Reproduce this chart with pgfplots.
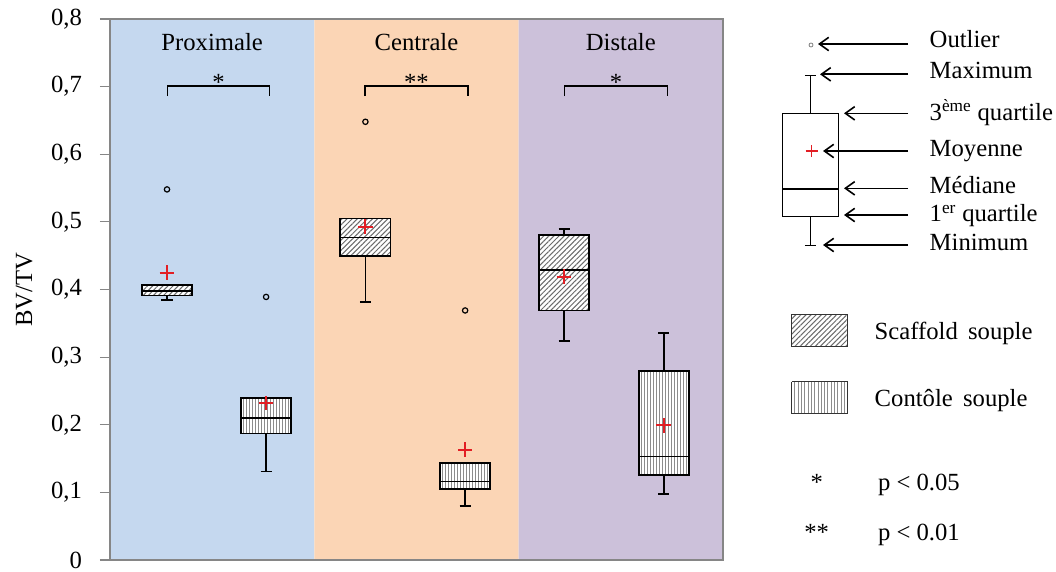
\documentclass[border=0pt]{standalone}
\usepackage{fontspec}
\setmainfont{Liberation Serif}
\usepackage{pgfplots}
\pgfplotsset{compat=1.18}
\usepgfplotslibrary{statistics}
\usetikzlibrary{patterns.meta,arrows.meta}
\definecolor{bgblue}{RGB}{197,216,239}
\definecolor{bgorange}{RGB}{251,213,181}
\definecolor{bgpurple}{RGB}{204,193,218}
\definecolor{axgray}{RGB}{134,134,134}
\definecolor{meanred}{RGB}{226,30,36}
\tikzset{
 scaf/.style={pattern={Lines[angle=45,distance=2.7pt,line width=0.75pt]}, pattern color=black!58},
 arr/.style={black, line width=1.2pt, -{Straight Barb[length=7pt,width=10pt]}},
}
\pgfplotsset{
 meanst/.style={only marks, mark=+, mark size=5.5pt, draw=meanred, color=meanred, mark options={draw=meanred, line width=1.4pt}},
 vhatch/.style={black!45, line width=0.45pt, unbounded coords=jump},
}
\begin{document}
\begin{tikzpicture}[font=\fontsize{18.5}{22}\selectfont]
\path[use as bounding box] (-82.5pt,-8.25pt) rectangle (709.5pt,420pt);
\begin{axis}[
 at={(0pt,0pt)}, anchor=south west,
 scale only axis, width=459.75pt, height=405.75pt,
 xmin=0, xmax=3, ymin=0, ymax=0.8,
 axis on top,
 axis line style={axgray, line width=0.8pt},
 xtick=\empty,
 ytick={0,0.1,0.2,0.3,0.4,0.5,0.6,0.7,0.8},
 ytick pos=left,
 tick align=outside,
 major tick length=7.5pt,
 every tick/.style={axgray, line width=0.8pt},
 yticklabel style={xshift=-10pt, /pgf/number format/.cd, fixed, precision=1, use comma, assume math mode=true},
 ylabel={BV/TV},
 ylabel style={at={(axis description cs:-0.14,0.5)}, anchor=center},
 boxplot/draw direction=y,
 boxplot/box extend=0.245,
 boxplot/whisker extend=0.054,
 clip=false,
]
% backgrounds
\addplot[draw=none, fill=bgblue] coordinates {(0,0) (0,0.8) (1,0.8) (1,0) (0,0)};
\addplot[draw=none, fill=bgorange] coordinates {(1,0) (1,0.8) (2,0.8) (2,0) (1,0)};
\addplot[draw=none, fill=bgpurple] coordinates {(2,0) (2,0.8) (3,0.8) (3,0) (2,0)};
% white underlays of the boxes
\addplot[draw=none, fill=white, boxplot prepared={draw position=0.279, lower whisker=0.391, lower quartile=0.391, median=0.398, upper quartile=0.407, upper whisker=0.407}] coordinates {};
\addplot[draw=none, fill=white, boxplot prepared={draw position=1.25, lower whisker=0.449, lower quartile=0.449, median=0.477, upper quartile=0.505, upper whisker=0.505}] coordinates {};
\addplot[draw=none, fill=white, boxplot prepared={draw position=2.222, lower whisker=0.369, lower quartile=0.369, median=0.429, upper quartile=0.481, upper whisker=0.481}] coordinates {};
\addplot[draw=none, fill=white, boxplot prepared={draw position=0.764, lower whisker=0.187, lower quartile=0.187, median=0.210, upper quartile=0.239, upper whisker=0.239}] coordinates {};
\addplot[draw=none, fill=white, boxplot prepared={draw position=1.738, lower whisker=0.1055, lower quartile=0.1055, median=0.116, upper quartile=0.1435, upper whisker=0.1435}] coordinates {};
\addplot[draw=none, fill=white, boxplot prepared={draw position=2.71, lower whisker=0.126, lower quartile=0.126, median=0.153, upper quartile=0.280, upper whisker=0.280}] coordinates {};
% vertical hatching of the Contole boxes
\addplot[vhatch] coordinates {(0.6538,0.187) (0.6538,0.239) (0.6538,nan) (0.6685,0.187) (0.6685,0.239) (0.6685,nan) (0.6832,0.187) (0.6832,0.239) (0.6832,nan) (0.6979,0.187) (0.6979,0.239) (0.6979,nan) (0.7126,0.187) (0.7126,0.239) (0.7126,nan) (0.7273,0.187) (0.7273,0.239) (0.7273,nan) (0.7420,0.187) (0.7420,0.239) (0.7420,nan) (0.7567,0.187) (0.7567,0.239) (0.7567,nan) (0.7714,0.187) (0.7714,0.239) (0.7714,nan) (0.7861,0.187) (0.7861,0.239) (0.7861,nan) (0.8008,0.187) (0.8008,0.239) (0.8008,nan) (0.8155,0.187) (0.8155,0.239) (0.8155,nan) (0.8302,0.187) (0.8302,0.239) (0.8302,nan) (0.8449,0.187) (0.8449,0.239) (0.8449,nan) (0.8596,0.187) (0.8596,0.239) (0.8596,nan) (0.8743,0.187) (0.8743,0.239)};
\addplot[vhatch] coordinates {(1.6278,0.1055) (1.6278,0.1435) (1.6278,nan) (1.6425,0.1055) (1.6425,0.1435) (1.6425,nan) (1.6572,0.1055) (1.6572,0.1435) (1.6572,nan) (1.6719,0.1055) (1.6719,0.1435) (1.6719,nan) (1.6866,0.1055) (1.6866,0.1435) (1.6866,nan) (1.7013,0.1055) (1.7013,0.1435) (1.7013,nan) (1.7160,0.1055) (1.7160,0.1435) (1.7160,nan) (1.7307,0.1055) (1.7307,0.1435) (1.7307,nan) (1.7454,0.1055) (1.7454,0.1435) (1.7454,nan) (1.7601,0.1055) (1.7601,0.1435) (1.7601,nan) (1.7748,0.1055) (1.7748,0.1435) (1.7748,nan) (1.7895,0.1055) (1.7895,0.1435) (1.7895,nan) (1.8042,0.1055) (1.8042,0.1435) (1.8042,nan) (1.8189,0.1055) (1.8189,0.1435) (1.8189,nan) (1.8336,0.1055) (1.8336,0.1435) (1.8336,nan) (1.8483,0.1055) (1.8483,0.1435)};
\addplot[vhatch] coordinates {(2.5998,0.126) (2.5998,0.280) (2.5998,nan) (2.6145,0.126) (2.6145,0.280) (2.6145,nan) (2.6292,0.126) (2.6292,0.280) (2.6292,nan) (2.6439,0.126) (2.6439,0.280) (2.6439,nan) (2.6586,0.126) (2.6586,0.280) (2.6586,nan) (2.6733,0.126) (2.6733,0.280) (2.6733,nan) (2.6880,0.126) (2.6880,0.280) (2.6880,nan) (2.7027,0.126) (2.7027,0.280) (2.7027,nan) (2.7174,0.126) (2.7174,0.280) (2.7174,nan) (2.7321,0.126) (2.7321,0.280) (2.7321,nan) (2.7468,0.126) (2.7468,0.280) (2.7468,nan) (2.7615,0.126) (2.7615,0.280) (2.7615,nan) (2.7762,0.126) (2.7762,0.280) (2.7762,nan) (2.7909,0.126) (2.7909,0.280) (2.7909,nan) (2.8056,0.126) (2.8056,0.280) (2.8056,nan) (2.8203,0.126) (2.8203,0.280)};
% boxes: Scaffold souple
\addplot[black, line width=1.35pt, scaf, boxplot prepared={draw position=0.279, lower whisker=0.385, lower quartile=0.391, median=0.398, upper quartile=0.407, upper whisker=0.407}] coordinates {};
\addplot[black, line width=1.35pt, scaf, boxplot prepared={draw position=1.25, lower whisker=0.381, lower quartile=0.449, median=0.477, upper quartile=0.505, upper whisker=0.505}] coordinates {};
\addplot[black, line width=1.35pt, scaf, boxplot prepared={draw position=2.222, lower whisker=0.3235, lower quartile=0.369, median=0.429, upper quartile=0.481, upper whisker=0.489}] coordinates {};
% boxes: Contole souple
\addplot[black, line width=1.35pt, boxplot prepared={draw position=0.764, lower whisker=0.131, lower quartile=0.187, median=0.210, upper quartile=0.239, upper whisker=0.239}] coordinates {};
\addplot[black, line width=1.35pt, boxplot prepared={draw position=1.738, lower whisker=0.080, lower quartile=0.1055, median=0.116, upper quartile=0.1435, upper whisker=0.1435}] coordinates {};
\addplot[black, line width=1.35pt, boxplot prepared={draw position=2.71, lower whisker=0.098, lower quartile=0.126, median=0.153, upper quartile=0.280, upper whisker=0.336}] coordinates {};
% outliers
\addplot[only marks, mark=o, mark size=2pt, draw=black, mark options={draw=black, line width=0.9pt}] coordinates {(0.279,0.548) (0.764,0.389) (1.25,0.648) (1.738,0.369)};
% means
\addplot[meanst] coordinates {(0.279,0.425)};
\addplot[meanst] coordinates {(0.764,0.232)};
\addplot[meanst] coordinates {(1.25,0.493)};
\addplot[meanst] coordinates {(1.738,0.163)};
\addplot[meanst] coordinates {(2.222,0.419)};
\addplot[meanst] coordinates {(2.71,0.199)};
% brackets
\addplot[black, line width=1.1pt] coordinates {(0.282,0.686) (0.282,0.701) (0.780,0.701) (0.780,0.686)};
\addplot[black, line width=1.1pt] coordinates {(1.248,0.686) (1.248,0.701) (1.752,0.701) (1.752,0.686)};
\addplot[black, line width=1.1pt] coordinates {(2.225,0.686) (2.225,0.701) (2.728,0.701) (2.728,0.686)};
\node[anchor=base] at (axis cs:0.531,0.695) {*};
\node[anchor=base] at (axis cs:1.500,0.695) {**};
\node[anchor=base] at (axis cs:2.477,0.695) {*};
% titles
\node[anchor=base] at (axis cs:0.5,0.754) {Proximale};
\node[anchor=base] at (axis cs:1.5,0.754) {Centrale};
\node[anchor=base] at (axis cs:2.5,0.754) {Distale};
\end{axis}
\begin{axis}[
 at={(472.5pt,0pt)}, anchor=south west,
 scale only axis, width=237pt, height=405.75pt,
 xmin=740, xmax=1056, ymin=19, ymax=560, y dir=reverse,
 hide axis, clip=false,
 boxplot/draw direction=y,
]
\addplot[black, line width=1pt, boxplot prepared={draw position=810.3, box extend=56, whisker extend=11, lower whisker=75.7, lower quartile=113.3, median=189, upper quartile=216.7, upper whisker=245.3}] coordinates {};
\addplot[only marks, mark=o, mark size=1.5pt, draw=gray, mark options={draw=gray, line width=0.6pt}] coordinates {(811,45)};
\addplot[only marks, mark=+, mark size=4.5pt, draw=meanred, mark options={draw=meanred, line width=1pt}] coordinates {(811.7,151)};
\addplot[arr] coordinates {(908,44) (818,44)};
\addplot[arr] coordinates {(908,74.3) (820,74.3)};
\addplot[arr] coordinates {(908,113.3) (844,113.3)};
\addplot[arr] coordinates {(908,151) (823,151)};
\addplot[arr] coordinates {(908,188.3) (844,188.3)};
\addplot[arr] coordinates {(908,215) (844,215)};
\addplot[arr] coordinates {(908,245) (823,245)};
\node[anchor=base west] at (axis cs:925,48) {Outlier};
\node[anchor=base west] at (axis cs:925,79) {Maximum};
\node[anchor=base west] at (axis cs:925,120) {3\textsuperscript{ème} quartile};
\node[anchor=base west] at (axis cs:925,156.7) {Moyenne};
\node[anchor=base west] at (axis cs:925,193.3) {Médiane};
\node[anchor=base west] at (axis cs:925,221.7) {1\textsuperscript{er} quartile};
\node[anchor=base west] at (axis cs:925,250) {Minimum};
% legend swatches
\addplot[draw=none, fill=white] coordinates {(791.7,314) (847.3,314) (847.3,346) (791.7,346) (791.7,314)};
\addplot[draw=none, fill=white] coordinates {(791.7,381.7) (847.3,381.7) (847.3,413.3) (791.7,413.3) (791.7,381.7)};
\addplot[draw=black!80, line width=0.7pt, scaf] coordinates {(791.7,314) (847.3,314) (847.3,346) (791.7,346) (791.7,314)};
\addplot[vhatch] coordinates {(794.7,381.7) (794.7,413.3) (794.7,nan) (798.0,381.7) (798.0,413.3) (798.0,nan) (801.3,381.7) (801.3,413.3) (801.3,nan) (804.6,381.7) (804.6,413.3) (804.6,nan) (807.9,381.7) (807.9,413.3) (807.9,nan) (811.2,381.7) (811.2,413.3) (811.2,nan) (814.5,381.7) (814.5,413.3) (814.5,nan) (817.8,381.7) (817.8,413.3) (817.8,nan) (821.1,381.7) (821.1,413.3) (821.1,nan) (824.4,381.7) (824.4,413.3) (824.4,nan) (827.7,381.7) (827.7,413.3) (827.7,nan) (831.0,381.7) (831.0,413.3) (831.0,nan) (834.3,381.7) (834.3,413.3) (834.3,nan) (837.6,381.7) (837.6,413.3) (837.6,nan) (840.9,381.7) (840.9,413.3) (840.9,nan) (844.2,381.7) (844.2,413.3)};
\addplot[draw=black!80, line width=0.7pt] coordinates {(791.7,381.7) (847.3,381.7) (847.3,413.3) (791.7,413.3) (791.7,381.7)};
\node[anchor=base west] at (axis cs:870,339) {Scaffold\, souple};
\node[anchor=base west] at (axis cs:870,406) {Contôle\, souple};
\node[anchor=base] at (axis cs:816.7,490) {*};
\node[anchor=base] at (axis cs:816.7,540) {**};
\node[anchor=base west] at (axis cs:873.3,490) {p < 0.05};
\node[anchor=base west] at (axis cs:873.3,540) {p < 0.01};
\end{axis}
\end{tikzpicture}
\end{document}
